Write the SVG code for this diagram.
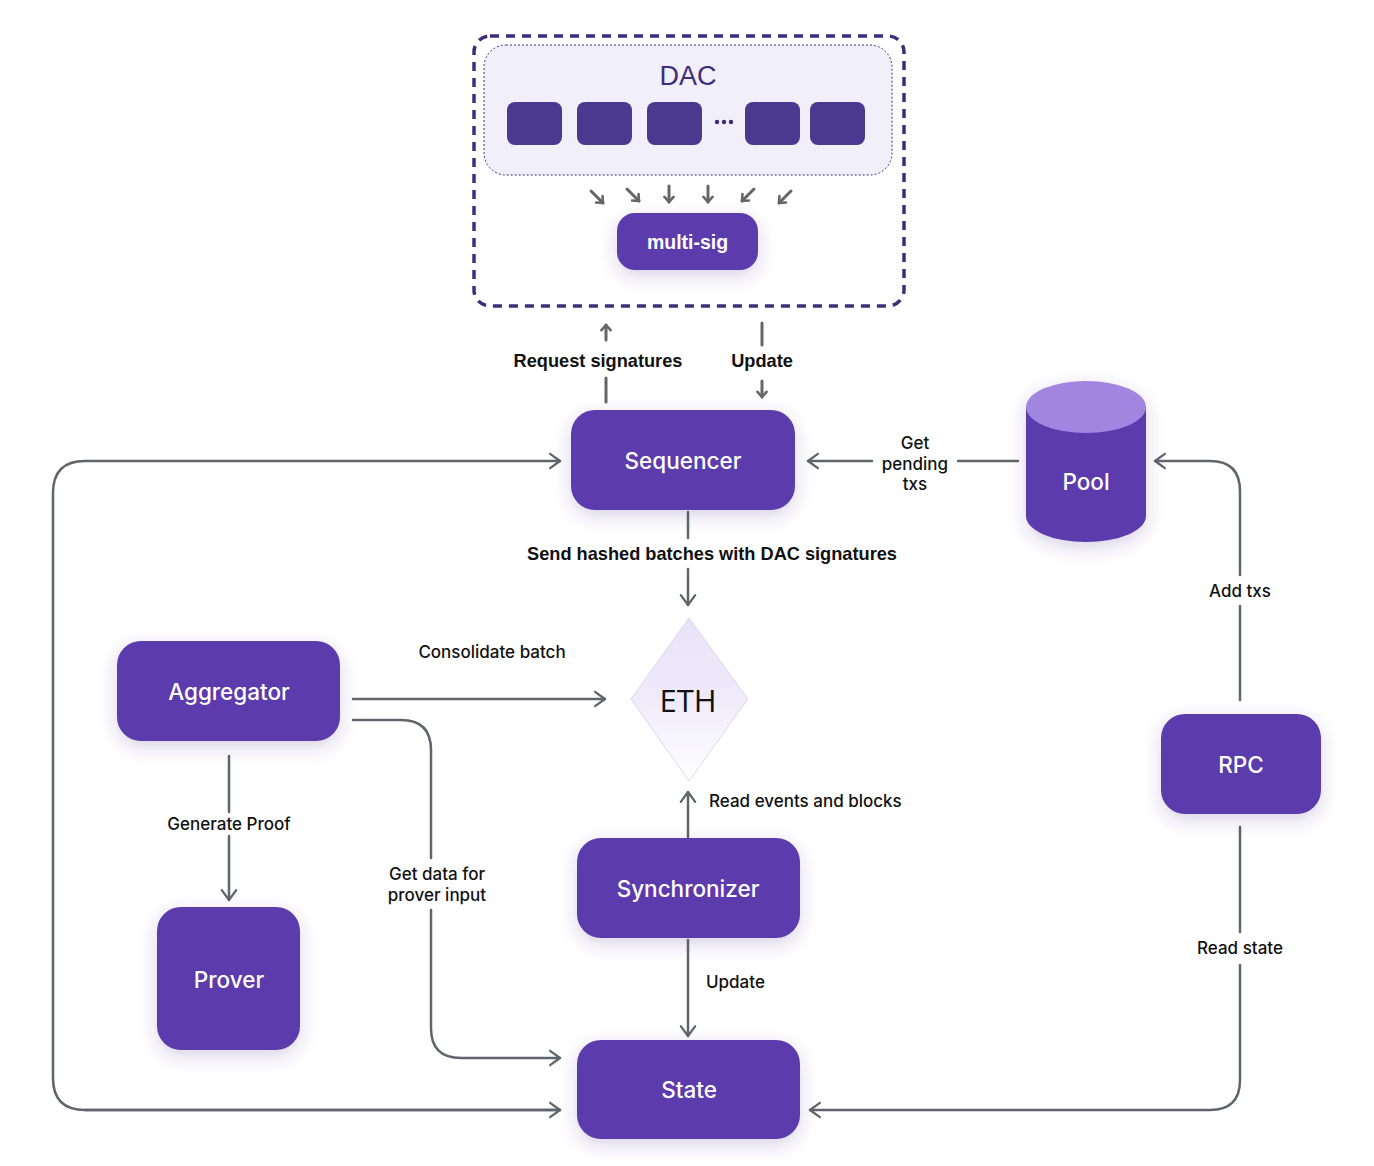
<svg xmlns="http://www.w3.org/2000/svg" width="1374" height="1166" viewBox="0 0 1374 1166">
<defs>
<style>
.node{fill:#5b3aad;filter:url(#sh)}
.nt{font-family:Inter,"Noto Sans",sans-serif;font-weight:500;font-size:22.5px;fill:#fff;text-anchor:middle;dominant-baseline:central}
.ln{fill:none;stroke:#61656b;stroke-width:2.5;stroke-linecap:round;stroke-linejoin:round}
.sm{fill:none;stroke:#666;stroke-width:3;stroke-linecap:round;stroke-linejoin:round}
.lb{font-family:Inter,"Noto Sans",sans-serif;font-weight:500;font-size:17px;fill:#111;text-anchor:middle}
.ls{text-anchor:start}
.bl{font-family:"Liberation Sans",Arial,sans-serif;font-weight:bold;font-size:18.2px;fill:#111;text-anchor:middle}
.mem{fill:#4b398f}
</style>
<filter id="sh" x="-30%" y="-30%" width="160%" height="170%">
<feDropShadow dx="0" dy="6" stdDeviation="9" flood-color="#4b3a8f" flood-opacity="0.22"/>
</filter>
<marker id="ah" viewBox="0 0 20 20" refX="17" refY="10" markerWidth="18" markerHeight="18" markerUnits="userSpaceOnUse" orient="auto">
<path d="M6,2 L17,10 L6,18" fill="none" stroke="#61656b" stroke-width="2.5" stroke-linecap="round" stroke-linejoin="round"/>
</marker>
<marker id="as" viewBox="0 0 20 20" refX="16" refY="10" markerWidth="13" markerHeight="13" markerUnits="userSpaceOnUse" orient="auto">
<path d="M8,3 L16,10 L8,17" fill="none" stroke="#666" stroke-width="4" stroke-linecap="round" stroke-linejoin="round"/>
</marker>
<linearGradient id="eg" x1="0" y1="0" x2="0" y2="1">
<stop offset="0" stop-color="#e8e2f7"/>
<stop offset="0.5" stop-color="#efebfa"/>
<stop offset="1" stop-color="#ffffff"/>
</linearGradient>
</defs>
<rect width="1374" height="1166" fill="#fff"/>

<g id="dac-group">
<rect x="474" y="36" width="430" height="270" rx="16" fill="none" stroke="#3f2d7c" stroke-width="3.5" stroke-dasharray="9 7"/>
<rect x="484" y="45" width="408" height="130" rx="22" fill="#f1effa" stroke="#3f2d7c" stroke-width="1" stroke-dasharray="2 2"/>
<text x="688" y="76" font-family="'Liberation Sans',Arial,sans-serif" font-size="27" fill="#3f2d7c" text-anchor="middle" dominant-baseline="central">DAC</text>
<rect class="mem" x="507" y="102" width="55" height="43" rx="8"/>
<rect class="mem" x="577" y="102" width="55" height="43" rx="8"/>
<rect class="mem" x="647" y="102" width="55" height="43" rx="8"/>
<rect class="mem" x="745" y="102" width="55" height="43" rx="8"/>
<rect class="mem" x="810" y="102" width="55" height="43" rx="8"/>
<circle cx="717" cy="122" r="2.2" fill="#3f2d7c"/>
<circle cx="724" cy="122" r="2.2" fill="#3f2d7c"/>
<circle cx="731" cy="122" r="2.2" fill="#3f2d7c"/>
</g>

<g id="connectors">
<path class="sm" d="M591,191 L603,203" marker-end="url(#as)"/>
<path class="sm" d="M627,189 L639,201" marker-end="url(#as)"/>
<path class="sm" d="M669,186 L669,202" marker-end="url(#as)"/>
<path class="sm" d="M708,186 L708,202" marker-end="url(#as)"/>
<path class="sm" d="M754,189 L742,201" marker-end="url(#as)"/>
<path class="sm" d="M791,191 L779,203" marker-end="url(#as)"/>

<path class="sm" d="M606,340 L606,325" marker-end="url(#as)"/>
<path class="sm" d="M606,378 L606,402"/>
<path class="sm" d="M762,323 L762,345"/>
<path class="sm" d="M762,381 L762,397" marker-end="url(#as)"/>

<path class="ln" d="M1018,461 L958,461"/>
<path class="ln" d="M872,461 L808,461" marker-end="url(#ah)"/>

<path class="ln" d="M688,512 L688,538"/>
<path class="ln" d="M688,569 L688,605" marker-end="url(#ah)"/>

<path class="ln" d="M560,1110 L85,1110 Q53,1110 53,1078 L53,493 Q53,461 85,461 L560,461" marker-end="url(#ah)"/>
<path class="ln" d="M85,1110 L560,1110" marker-end="url(#ah)"/>

<path class="ln" d="M353,699 L605,699" marker-end="url(#ah)"/>
<path class="ln" d="M353,720 L401,720 Q431,720 431,750 L431,858"/>
<path class="ln" d="M431,910 L431,1028 Q431,1058 461,1058 L560,1058" marker-end="url(#ah)"/>

<path class="ln" d="M229,756 L229,812"/>
<path class="ln" d="M229,836 L229,900" marker-end="url(#ah)"/>

<path class="ln" d="M688,837 L688,792" marker-end="url(#ah)"/>
<path class="ln" d="M688,940 L688,1036" marker-end="url(#ah)"/>

<path class="ln" d="M1240,700 L1240,606"/>
<path class="ln" d="M1240,575 L1240,491 Q1240,461 1210,461 L1155,461" marker-end="url(#ah)"/>
<path class="ln" d="M1240,827 L1240,932"/>
<path class="ln" d="M1240,965 L1240,1080 Q1240,1110 1210,1110 L810,1110" marker-end="url(#ah)"/>
</g>

<g id="labels">
<text class="bl" x="598" y="367">Request signatures</text>
<text class="bl" x="762" y="367">Update</text>
<text class="lb" x="915" y="449">Get</text>
<text class="lb" x="915" y="470">pending</text>
<text class="lb" x="915" y="490">txs</text>
<text class="bl" x="712" y="560">Send hashed batches with DAC signatures</text>
<text class="lb" x="492" y="658">Consolidate batch</text>
<text class="lb" x="229" y="830">Generate Proof</text>
<text class="lb" x="437" y="880">Get data for</text>
<text class="lb" x="437" y="901">prover input</text>
<text class="lb ls" x="709" y="807">Read events and blocks</text>
<text class="lb ls" x="706" y="988">Update</text>
<text class="lb" x="1240" y="597">Add txs</text>
<text class="lb" x="1240" y="954">Read state</text>
</g>

<g id="multisig">
<rect class="node" x="617" y="213" width="141" height="57" rx="18"/>
<text x="687.5" y="242" font-family="'Liberation Sans',Arial,sans-serif" font-weight="bold" font-size="19.5" fill="#fff" text-anchor="middle" dominant-baseline="central">multi-sig</text>
</g>

<g id="sequencer">
<rect class="node" x="571" y="410" width="224" height="100" rx="24"/>
<text class="nt" x="683" y="460">Sequencer</text>
</g>

<g id="pool">
<g filter="url(#sh)">
<path d="M1026,407 L1026,516 A60,26 0 0 0 1146,516 L1146,407 Z" fill="#5b3aad"/>
<ellipse cx="1086" cy="407" rx="60" ry="26" fill="#a185e0"/>
</g>
<text class="nt" x="1086" y="481">Pool</text>
</g>

<g id="eth">
<path d="M689,618 L748,699 L689,781 L631,699 Z" fill="url(#eg)" stroke="#ddd6f0" stroke-width="1"/>
<text x="688" y="700" font-family="'Open Sans','Noto Sans',sans-serif" font-size="31" fill="#111" text-anchor="middle" dominant-baseline="central">ETH</text>
</g>

<g id="aggregator">
<rect class="node" x="117" y="641" width="223" height="100" rx="24"/>
<text class="nt" x="229" y="691">Aggregator</text>
</g>

<g id="prover">
<rect class="node" x="157" y="907" width="143" height="143" rx="24"/>
<text class="nt" x="229" y="979">Prover</text>
</g>

<g id="synchronizer">
<rect class="node" x="577" y="838" width="223" height="100" rx="24"/>
<text class="nt" x="688" y="888">Synchronizer</text>
</g>

<g id="state">
<rect class="node" x="577" y="1040" width="223" height="99" rx="24"/>
<text class="nt" x="689" y="1089">State</text>
</g>

<g id="rpc">
<rect class="node" x="1161" y="714" width="160" height="100" rx="24"/>
<text class="nt" x="1241" y="764">RPC</text>
</g>
</svg>
